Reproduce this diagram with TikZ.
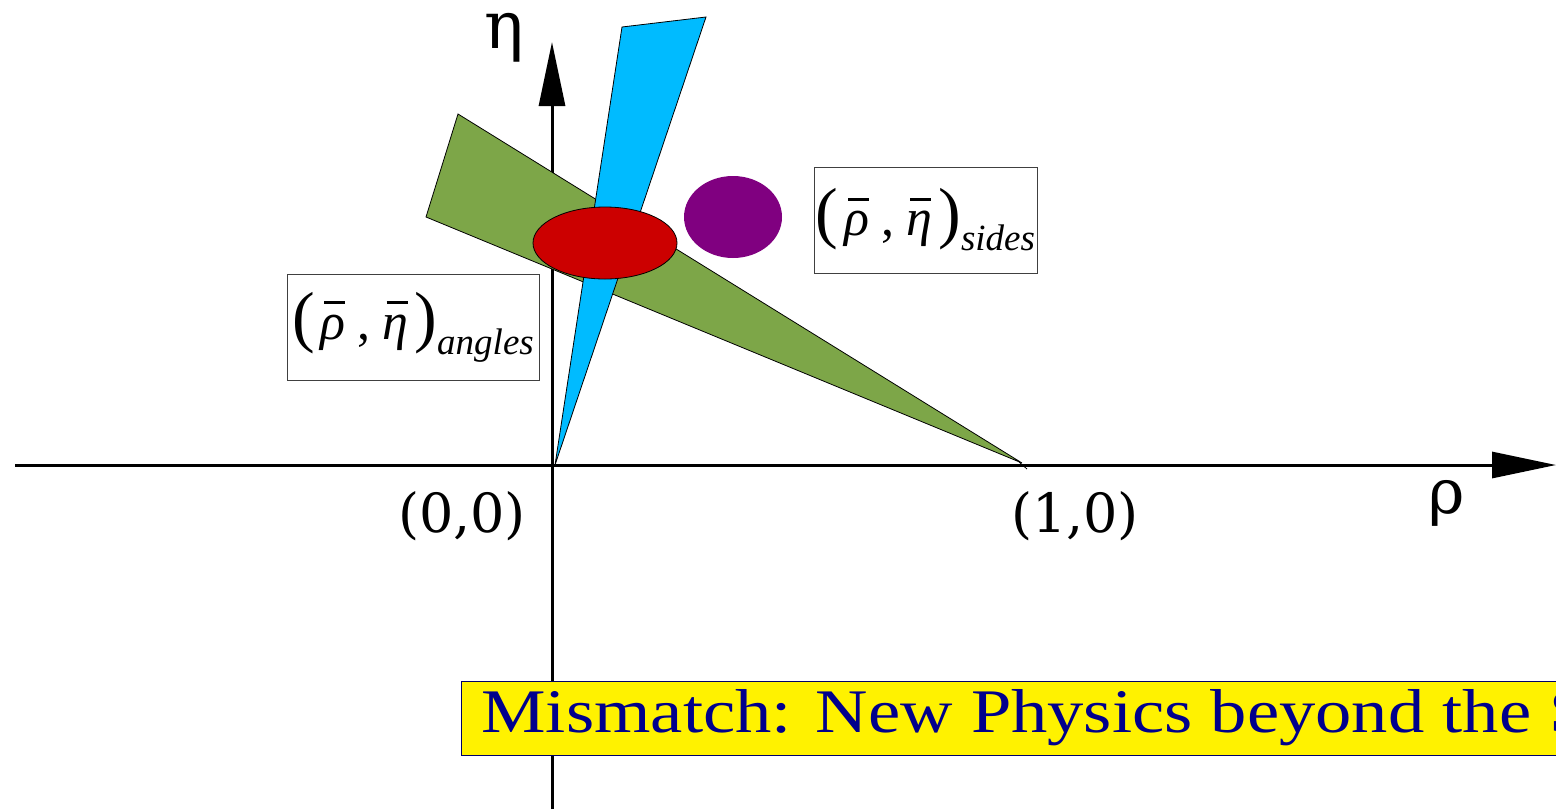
\documentclass[tikz,border=0pt]{standalone}
\usepackage{fontspec}
\setmainfont{Liberation Serif}
\newfontfamily\dvs{DejaVu Serif}
\newfontfamily\bannerfont[FakeStretch=1.17]{Liberation Serif}
\usetikzlibrary{arrows.meta}
\definecolor{wedgegreen}{RGB}{125,166,72}
\definecolor{wedgeblue}{RGB}{0,187,255}
\definecolor{ellred}{RGB}{204,0,0}
\definecolor{circpurple}{RGB}{128,0,128}
\definecolor{textnavy}{RGB}{0,0,140}
\newcommand\obar[1]{\ooalign{{\itshape #1}\cr\hidewidth\hspace{1.5pt}\rule[17.5pt]{10.5pt}{1.5pt}\hidewidth\cr}}
\newcommand\bigparen[1]{{\fontsize{34}{34}\selectfont #1}}
\newcommand\pairlabel[1]{\bigparen{(}\hspace{3pt}\obar{ρ}\hspace{6pt},\hspace{6pt}\obar{η}\hspace{3pt}\bigparen{)}\raisebox{-7.5pt}{\fontsize{18.5}{18.5}\selectfont\itshape #1}}
\tikzset{
  axis/.style={line width=1.5pt, -{Triangle[length=32pt,width=13pt]}},
  axislabel/.style={font=\dvs\fontsize{27}{27}\selectfont, inner sep=0pt},
  shapeedge/.style={draw=black, line width=0.4pt},
  resultbox/.style={draw=black!75, line width=0.4pt, fill=white, inner sep=0pt,
     font=\fontsize{26}{26}\selectfont},
  banner/.style={draw=black!60!blue, line width=0.5pt, fill=yellow, anchor=west,
     text=textnavy, inner xsep=10pt, inner ysep=0pt, minimum height=37pt,
     font=\bannerfont\fontsize{31}{31}\selectfont}
}
\begin{document}
\begin{tikzpicture}[x=0.5pt,y=-0.5pt]
\clip (0,0) rectangle (1556,809);
\fill[white] (0,0) rectangle (1556,809);
% axes
\coordinate (xs) at (15,465);
\coordinate (xe) at (1556,465);
\coordinate (ys) at (552,809);
\coordinate (ye) at (552,42);
\draw[axis] (xs) -- (xe);
\draw[axis] (ys) -- (ye);
% wedges
\filldraw[fill=wedgegreen, shapeedge] (458,114) -- (426,217) -- (1022,463) -- cycle;
\draw[shapeedge] (1018,461) -- (1027,469);
\filldraw[fill=wedgeblue, shapeedge] (555,465) -- (622,27) -- (706,17) -- cycle;
% ellipses
\filldraw[fill=ellred, shapeedge] (605,243) ellipse [x radius=72, y radius=36];
\fill[circpurple] (733,217) ellipse [x radius=49, y radius=41];
% labels
\node[axislabel, font=\dvs\fontsize{33}{33}\selectfont] (eta) at (504,38) {η};
\node[axislabel, font=\dvs\fontsize{31}{31}\selectfont] (rho) at (1447,503) {ρ};
\node[axislabel] (o00) at (462,516) {(0,0)};
\node[axislabel] (o10) at (1075,516) {(1,0)};
% boxes
\node[resultbox, minimum width=111.5pt, minimum height=53pt] (sides) at (925.5,220)
  {\pairlabel{sides}};
\node[resultbox, minimum width=126pt, minimum height=53pt] (angles) at (413,327)
  {\pairlabel{angles}};
% banner
\node[banner] (mismatch) at (461,718) {Mismatch: New Physics beyond the S};
\end{tikzpicture}
\end{document}
